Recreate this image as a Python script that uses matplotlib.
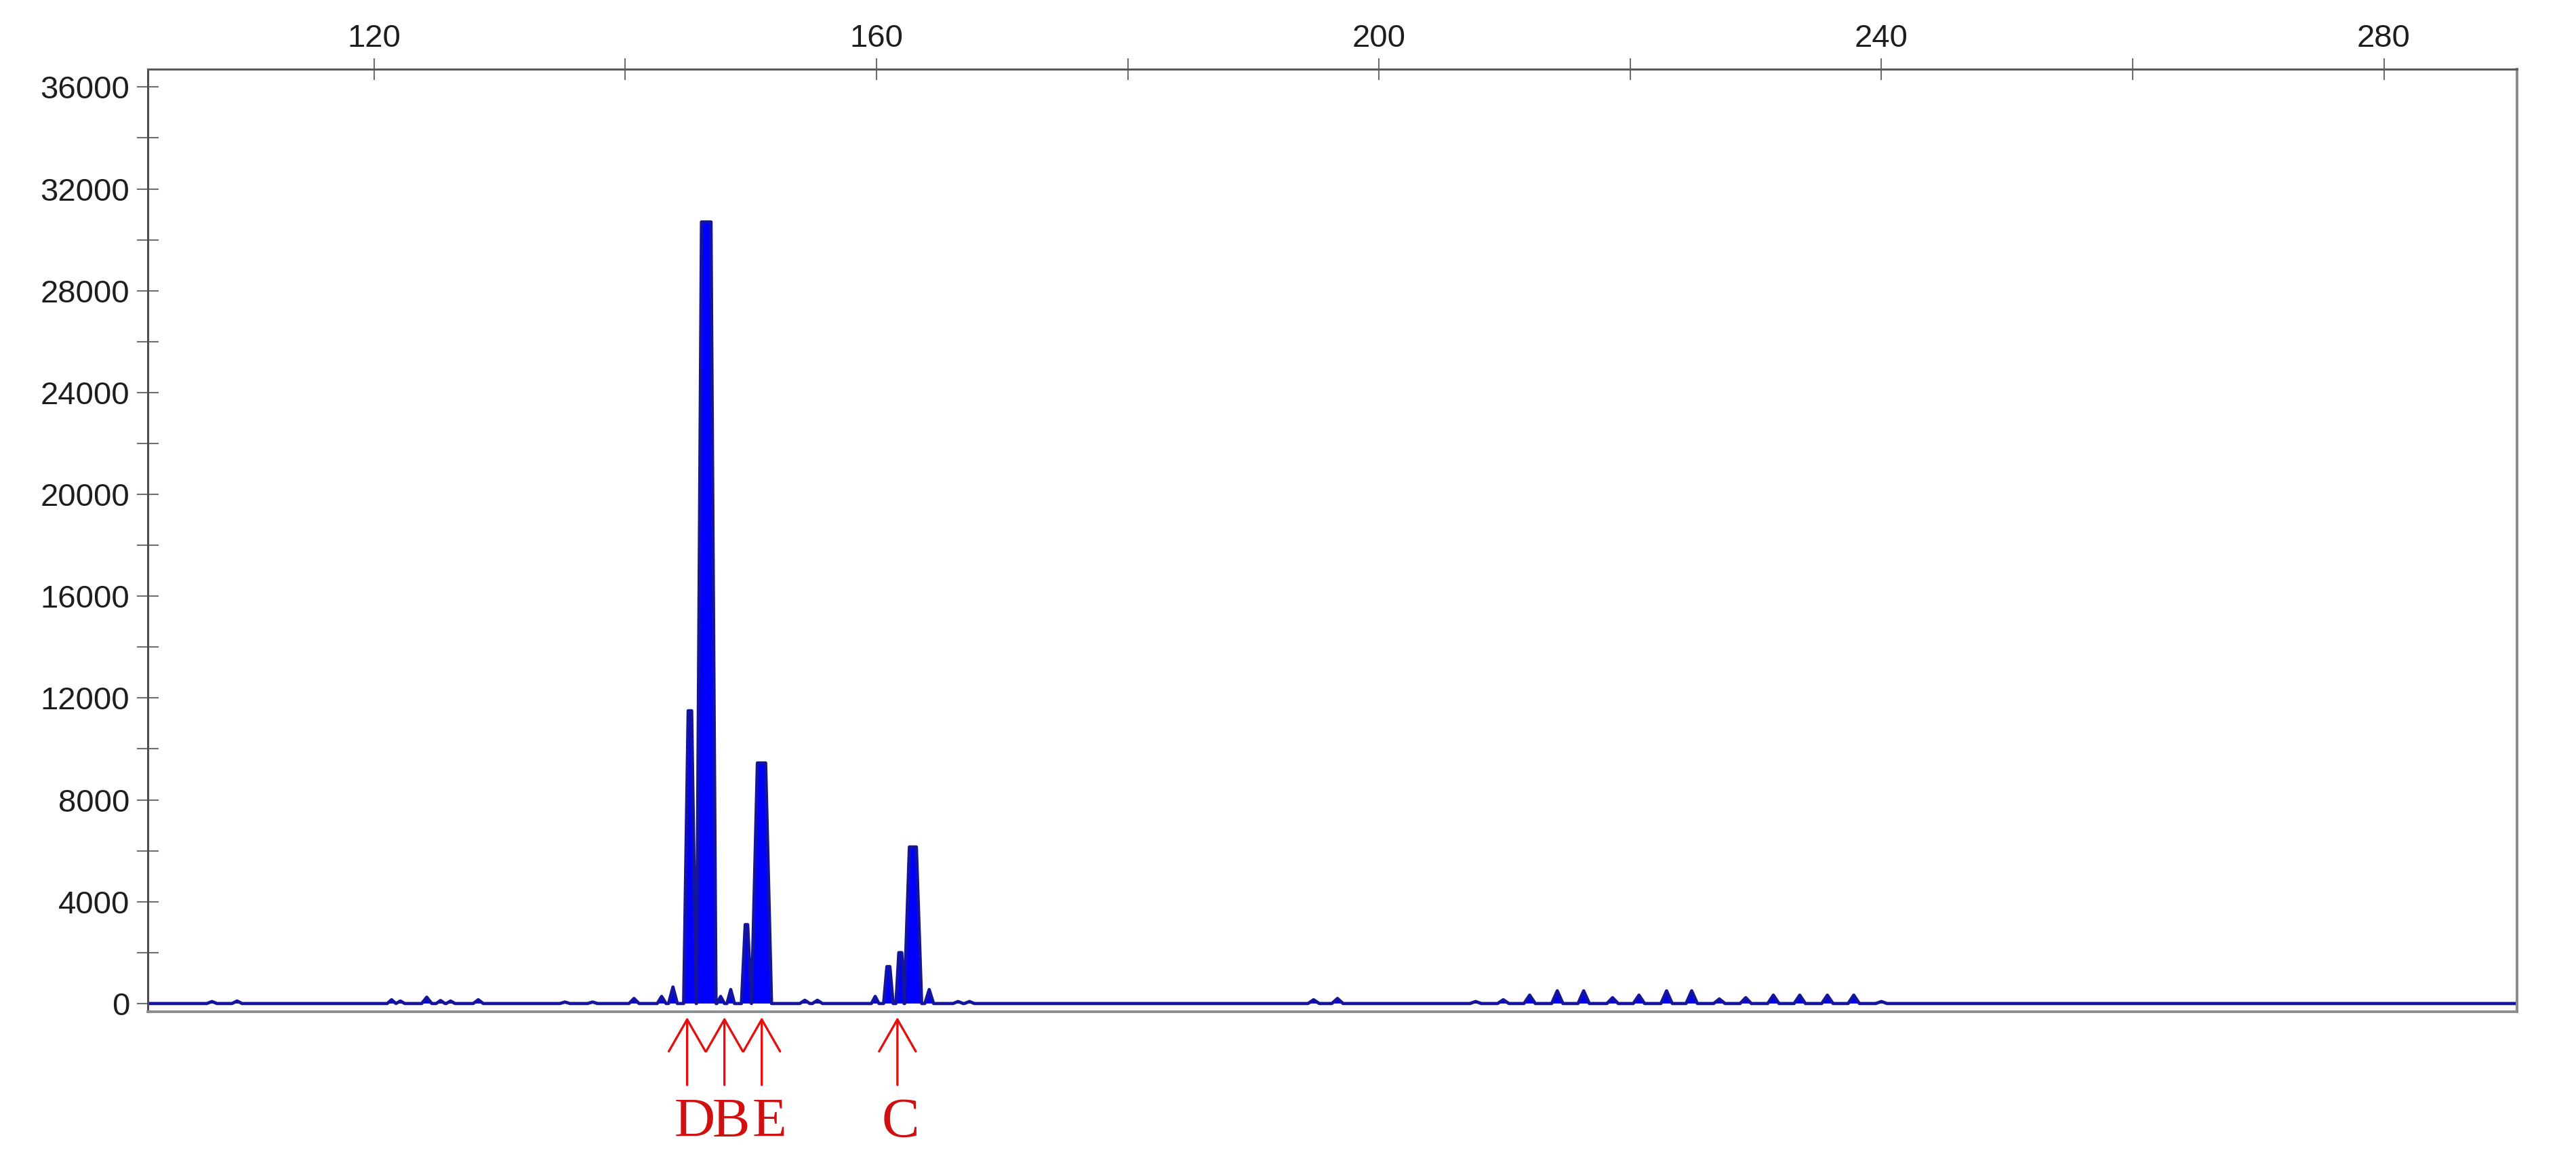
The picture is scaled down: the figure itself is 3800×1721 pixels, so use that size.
import matplotlib
matplotlib.use("Agg")
import matplotlib.pyplot as plt
from matplotlib.ticker import MultipleLocator, FuncFormatter

plt.rcParams['font.family'] = ['Liberation Sans', 'DejaVu Sans']

# trace: peak size (bp), height (RFU),
# half-width at the base and at the top (bp)
peak_bp = [107.1, 109.1, 121.4, 122.1, 124.2, 125.3, 126.1, 128.3, 135.2, 137.4,
           140.7, 142.9, 143.8, 145.15, 146.45, 147.6, 148.4, 149.65, 150.85,
           154.3, 155.3, 159.9, 160.95, 161.9, 162.9, 164.2, 166.5, 167.4,
           194.8, 196.7, 207.7, 209.9, 212.0, 214.2, 216.3, 218.6, 220.7,
           222.9, 224.9, 227.1, 229.2, 231.4, 233.5, 235.7, 237.8, 240.0]
peak_rfu = [80, 100, 150, 100, 250, 120, 100, 150, 60, 60,
            200, 280, 650, 11500, 30700, 280, 550, 3100, 9450,
            130, 130, 280, 1450, 2000, 6150, 550, 80, 80,
            150, 200, 80, 150, 330, 500, 500, 230, 330,
            500, 500, 180, 230, 330, 330, 330, 330, 80]
peak_base_hw = [0.4, 0.4, 0.35, 0.35, 0.4, 0.35, 0.35, 0.4, 0.4, 0.4,
                0.4, 0.35, 0.35, 0.5, 0.78, 0.3, 0.3, 0.4, 0.8,
                0.4, 0.4, 0.3, 0.38, 0.35, 0.7, 0.35, 0.4, 0.4,
                0.45, 0.45, 0.45, 0.45, 0.45, 0.45, 0.45, 0.45, 0.45,
                0.45, 0.45, 0.45, 0.45, 0.45, 0.45, 0.45, 0.45, 0.45]
peak_top_hw = [0, 0, 0, 0, 0, 0, 0, 0, 0, 0,
               0, 0, 0, 0.14, 0.38, 0, 0, 0.1, 0.33,
               0, 0, 0, 0.12, 0.12, 0.28, 0, 0, 0,
               0, 0, 0, 0, 0, 0, 0, 0, 0,
               0, 0, 0, 0, 0, 0, 0, 0, 0]
trace_range = [102, 291]

# allele calls marked under the trace
call_labels = ['D', 'B', 'E', 'C']
call_arrow_bp = [144.93, 147.9, 150.87, 161.67]
call_label_bp = [145.52, 148.44, 151.46, 161.93]

# build the trace polyline from the peak table
xs, ys = [trace_range[0]], [0]
for p, h, w, t in sorted(zip(peak_bp, peak_rfu, peak_base_hw, peak_top_hw)):
    xs += [p - w, p - t, p + t, p + w]
    ys += [0, h, h, 0]
xs.append(trace_range[1])
ys.append(0)

fig = plt.figure(figsize=(38, 17.21), dpi=100)
ax = fig.add_axes([0.0574, 0.1331, 0.9197, 0.8076])

ax.fill(xs, ys, color='#0000ff', lw=0)
ax.plot(xs, ys, color='#14149c', lw=3.4)

ax.set_xlim(102, 290.6)
ax.set_ylim(-320, 36700)

# x axis on top, labels every 40 bp, ticks every 20
ax.xaxis.set_ticks_position('top')
ax.xaxis.set_label_position('top')
ax.xaxis.set_major_locator(MultipleLocator(20))
ax.xaxis.set_major_formatter(FuncFormatter(lambda v, pos: f'{v:.0f}' if round(v) % 40 == 0 else ''))

ax.yaxis.set_major_locator(MultipleLocator(4000))
ax.yaxis.set_minor_locator(MultipleLocator(2000))

ax.tick_params(axis='both', which='both', direction='inout', length=23, width=1.5,
               color='#6e6e6e', labelsize=34, labelcolor='#1e1e1e')
ax.tick_params(axis='x', pad=5)
ax.tick_params(axis='y', pad=8)

ax.spines['left'].set_color('#4d4d4d')
ax.spines['left'].set_linewidth(2.2)
ax.spines['top'].set_color('#5a5a5a')
ax.spines['top'].set_linewidth(2.2)
ax.spines['right'].set_color('#8a8a8a')
ax.spines['right'].set_linewidth(2.8)
ax.spines['bottom'].set_color('#8c8c96')
ax.spines['bottom'].set_linewidth(2.8)

for lab, abp, lbp in zip(call_labels, call_arrow_bp, call_label_bp):
    ax.annotate('', xy=(abp, 0.1284), xycoords=('data', 'figure fraction'),
                xytext=(abp, 0.0703), textcoords=('data', 'figure fraction'),
                arrowprops=dict(arrowstyle='->,head_length=0.68,head_width=0.39',
                                mutation_scale=50, color='#e41010', lw=2.4,
                                shrinkA=0, shrinkB=0))
    ax.annotate(lab, xy=(lbp, 0.0262), xycoords=('data', 'figure fraction'),
                ha='center', va='baseline', fontsize=60,
                family=['Liberation Serif', 'DejaVu Serif'], color='#d01010',
                annotation_clip=False)

fig.savefig('out.png', dpi=100, facecolor='white')
